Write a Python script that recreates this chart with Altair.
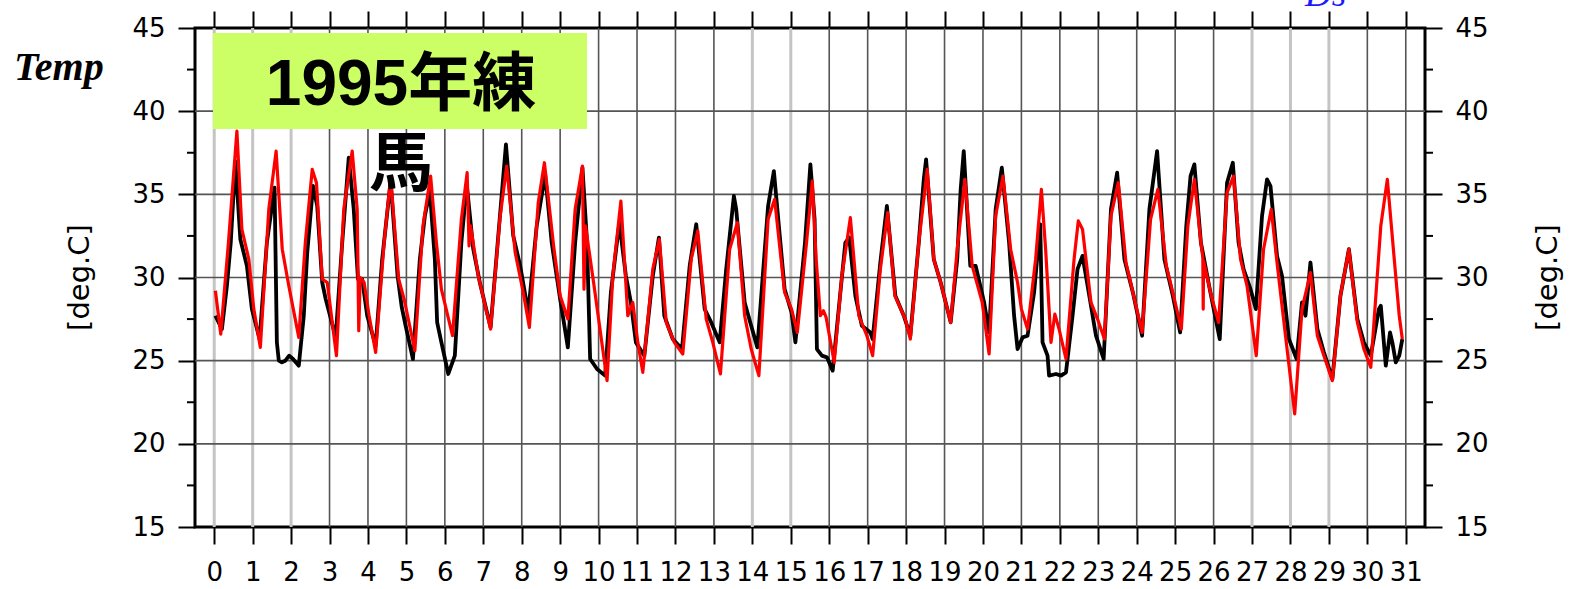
import altair as alt
import pandas as pd

# Hourly-ish readings: observed (black) and simulated (red), time in days
obs_day = [0.03, 0.20, 0.33, 0.43, 0.55, 0.68, 0.85, 0.98, 1.18, 1.37, 1.57, 1.63, 1.68, 1.76, 1.85,
           1.95, 2.05, 2.20, 2.33, 2.42, 2.57, 2.68, 2.81, 2.90, 3.16, 3.33, 3.50, 3.63, 3.74, 3.85,
           3.98, 4.20, 4.37, 4.59, 4.77, 4.88, 4.98, 5.17, 5.35, 5.48, 5.61, 5.74, 5.80, 5.91, 6.09,
           6.26, 6.43, 6.57, 6.74, 6.91, 7.19, 7.39, 7.59, 7.78, 7.96, 8.17, 8.39, 8.61, 8.78, 9.00,
           9.20, 9.39, 9.58, 9.70, 9.78, 9.96, 10.17, 10.32, 10.54, 10.71, 10.84, 10.97, 11.19, 11.41,
           11.57, 11.71, 11.93, 12.17, 12.37, 12.54, 12.76, 12.93, 13.15, 13.32, 13.52, 13.58, 13.80,
           13.97, 14.13, 14.41, 14.56, 14.84, 15.02, 15.12, 15.37, 15.51, 15.62, 15.68, 15.81, 15.94,
           16.09, 16.29, 16.42, 16.52, 16.68, 16.85, 17.07, 17.13, 17.33, 17.50, 17.72, 17.94, 18.11,
           18.33, 18.46, 18.52, 18.72, 18.90, 19.16, 19.33, 19.42, 19.50, 19.67, 19.81, 20.03, 20.16,
           20.33, 20.49, 20.68, 20.81, 20.90, 21.03, 21.16, 21.33, 21.49, 21.55, 21.68, 21.72, 21.90,
           22.03, 22.16, 22.33, 22.46, 22.59, 22.81, 22.94, 23.14, 23.33, 23.49, 23.68, 23.90, 24.14,
           24.33, 24.53, 24.72, 24.94, 25.13, 25.29, 25.40, 25.50, 25.67, 25.90, 26.16, 26.35, 26.50,
           26.65, 26.78, 26.96, 27.10, 27.26, 27.39, 27.48, 27.65, 27.78, 27.96, 28.16, 28.30, 28.39,
           28.52, 28.70, 28.87, 29.09, 29.30, 29.52, 29.74, 29.91, 30.09, 30.30, 30.35, 30.48, 30.59,
           30.65, 30.74, 30.83, 30.91]
obs_temp = [27.7, 26.9, 29.5, 32.1, 37.0, 32.3, 30.7, 28.1, 26.3, 32.1, 35.4, 26.1, 25.0, 24.9, 25.0,
            25.3, 25.1, 24.7, 27.7, 31.5, 35.5, 34.3, 29.7, 28.7, 26.4, 32.1, 37.2, 34.1, 29.9, 29.9,
            27.7, 25.9, 31.1, 35.8, 30.1, 28.2, 27.1, 25.1, 31.1, 33.7, 35.2, 31.1, 27.3, 26.1, 24.2,
            25.3, 32.1, 35.6, 31.7, 29.7, 27.0, 32.5, 38.0, 32.5, 30.7, 27.9, 33.1, 36.2, 32.1, 28.7,
            25.8, 32.1, 36.6, 32.1, 25.1, 24.5, 24.1, 29.1, 33.3, 30.1, 28.5, 26.1, 25.3, 30.1,
            32.4, 27.7, 26.3, 25.7, 30.7, 33.2, 28.1, 27.3, 26.1, 30.5, 34.9, 34.1, 28.5,
            27.1, 25.8, 34.3, 36.4, 29.3, 27.9, 26.1, 32.1, 36.8, 33.5, 25.7, 25.3, 25.2,
            24.4, 29.1, 32.1, 32.4, 28.9, 27.1, 26.7, 26.3, 30.9, 34.3, 28.9, 27.7, 26.5,
            32.1, 35.9, 37.1, 31.1, 29.7, 27.3, 31.1, 35.3, 37.6, 30.7, 30.7, 28.5, 26.7,
            34.1, 36.6, 32.1, 27.7, 25.7, 26.4, 26.5, 29.1, 33.2, 26.1, 25.3, 24.1, 24.2,
            24.1, 24.3, 27.7, 30.5, 31.3, 28.3, 26.5, 25.1, 34.1, 36.3, 31.1, 29.1, 26.5,
            34.1, 37.6, 31.1, 28.9, 26.7, 33.1, 36.1, 36.8, 32.1, 29.3, 26.3, 35.7, 36.9,
            32.1, 30.5, 29.3, 28.1, 33.7, 35.9, 35.5, 31.3, 30.1, 26.3, 25.1, 28.5, 27.7,
            30.9, 26.9, 25.5, 23.9, 28.9, 31.7, 27.5, 26.1, 25.3, 28.1, 28.3, 24.7, 26.7,
            26.1, 24.9, 25.3, 26.3]

mod_day = [0.03, 0.17, 0.37, 0.59, 0.72, 0.90, 1.03, 1.20, 1.42, 1.61, 1.77, 1.94, 2.20, 2.37, 2.55,
           2.66, 2.81, 2.94, 3.18, 3.37, 3.59, 3.72, 3.76, 3.80, 3.90, 4.03, 4.20, 4.42, 4.59, 4.80,
           4.95, 5.22, 5.43, 5.63, 5.78, 5.91, 6.20, 6.43, 6.58, 6.63, 6.67, 6.87, 7.19, 7.43, 7.61,
           7.83, 8.04, 8.20, 8.43, 8.59, 8.83, 9.00, 9.20, 9.39, 9.58, 9.62, 9.66, 9.87, 10.22, 10.37,
           10.58, 10.76, 10.89, 11.02, 11.15, 11.41, 11.58, 11.76, 11.97, 12.19, 12.41, 12.58, 12.80,
           12.97, 13.17, 13.41, 13.61, 13.80, 13.97, 14.17, 14.41, 14.58, 14.84, 15.02, 15.17, 15.41,
           15.56, 15.66, 15.77, 15.85, 15.92, 16.13, 16.33, 16.55, 16.77, 16.98, 17.13, 17.33, 17.52,
           17.71, 17.98, 18.11, 18.33, 18.55, 18.72, 18.90, 19.16, 19.33, 19.53, 19.72, 19.98, 20.16,
           20.33, 20.52, 20.72, 20.90, 21.00, 21.16, 21.37, 21.52, 21.63, 21.77, 21.87, 21.98, 22.16,
           22.37, 22.48, 22.59, 22.81, 22.98, 23.16, 23.33, 23.52, 23.72, 23.90, 24.14, 24.36, 24.55,
           24.77, 24.98, 25.16, 25.33, 25.50, 25.67, 25.72, 25.73, 25.74, 25.94, 26.13, 26.35, 26.52,
           26.70, 26.87, 27.11, 27.30, 27.50, 27.65, 27.83, 28.11, 28.30, 28.52, 28.70, 28.87, 29.09,
           29.30, 29.52, 29.74, 29.91, 30.09, 30.35, 30.52, 30.70, 30.83, 30.91]
mod_temp = [29.2, 26.6, 32.1, 38.8, 32.9, 31.1, 28.1, 25.8, 34.1, 37.6, 31.7, 29.5, 26.4, 32.1, 36.5,
            35.7, 29.9, 29.7, 25.3, 34.1, 37.6, 34.1, 26.8, 30.0, 29.7, 27.7, 25.5, 32.1, 36.0, 29.9,
            28.6, 25.6, 33.1, 36.1, 32.1, 29.3, 26.5, 33.5, 36.3, 31.9, 33.1, 30.1, 26.9, 33.5, 36.7,
            31.5, 29.1, 27.0, 34.5, 36.9, 31.9, 28.9, 27.5, 34.1, 36.7, 29.3, 33.1, 29.7, 23.8, 30.1,
            34.6, 27.7, 28.5, 26.1, 24.3, 30.5, 32.3, 27.3, 26.1, 25.4, 31.1, 32.8, 27.5,
            26.1, 24.2, 31.7, 33.3, 27.7, 25.7, 24.1, 33.5, 34.7, 29.1, 28.1, 26.7, 32.1,
            35.8, 31.1, 27.7, 28.0, 27.6, 24.9, 30.1, 33.6, 27.7, 26.5, 25.3, 30.5, 33.9,
            28.9, 27.5, 26.3, 32.1, 36.5, 31.1, 29.7, 27.3, 31.7, 35.9, 30.7, 28.5, 25.4,
            33.7, 36.1, 31.7, 29.7, 28.1, 26.9, 31.1, 35.3, 31.7, 26.1, 27.8, 26.9, 25.1,
            31.1, 33.4, 32.9, 28.5, 27.5, 26.3, 33.7, 35.7, 30.9, 29.1, 26.7, 33.5, 35.3,
            30.7, 28.7, 26.9, 33.1, 35.9, 32.1, 31.2, 28.1, 31.0, 28.9, 27.3, 35.1, 36.1,
            31.1, 29.5, 25.3, 31.7, 34.1, 30.9, 27.3, 21.8, 28.1, 30.3, 26.5, 25.3, 23.8,
            28.9, 31.7, 27.3, 25.7, 24.6, 33.1, 35.9, 31.1, 27.7, 26.3]

day_ticks = list(range(32))
shaded_days = [0, 1, 2, 14, 15, 27, 28, 29]
plain_days = [d for d in day_ticks if d not in shaded_days]
temp_ticks = [15, 20, 25, 30, 35, 40, 45]
temp_grid = [20, 25, 30, 35, 40]
temp_minor = [17.5, 22.5, 27.5, 32.5, 37.5, 42.5]

W, H = 1230, 499
LABEL_FONT = "DejaVu Sans"

x_scale = alt.Scale(domain=[-0.5, 31.5], nice=False, zero=False)
y_scale = alt.Scale(domain=[15, 45], nice=False, zero=False)

obs_df = pd.DataFrame({"day": obs_day, "temp": obs_temp})
mod_df = pd.DataFrame({"day": mod_day, "temp": mod_temp})
one = pd.DataFrame({"k": [0]})


def axis(orient, values, labels=True, align=None):
    kw = dict(orient=orient, values=values, title=None, domain=False, grid=False,
              ticks=True, tickSize=17, tickWidth=2, tickColor="black",
              labels=labels, labelFont=LABEL_FONT, labelFontSize=26, labelColor="black",
              labelOverlap=False, labelFlush=False)
    if orient in ("bottom", "top"):
        kw["labelPadding"] = 15
    else:
        kw["labelPadding"] = 13
    if align:
        kw["labelAlign"] = align
    return alt.Axis(**kw)


# grid
vgrid_plain = alt.Chart(pd.DataFrame({"day": plain_days})).mark_rule(
    color="#555555", strokeWidth=1.6).encode(x=alt.X("day:Q", scale=x_scale, axis=None))
vgrid_shaded = alt.Chart(pd.DataFrame({"day": shaded_days})).mark_rule(
    color="#c4c4c4", strokeWidth=3).encode(x=alt.X("day:Q", scale=x_scale, axis=None))
hgrid = alt.Chart(pd.DataFrame({"temp": temp_grid})).mark_rule(
    color="#555555", strokeWidth=1.6).encode(y=alt.Y("temp:Q", scale=y_scale, axis=None))

# minor ticks on both vertical axes
minor_df = pd.DataFrame({"temp": temp_minor})
minor_left = alt.Chart(minor_df).mark_rule(color="black", strokeWidth=2).encode(
    y=alt.Y("temp:Q", scale=y_scale, axis=None), x=alt.value(-8), x2=alt.value(0))
minor_right = alt.Chart(minor_df).mark_rule(color="black", strokeWidth=2).encode(
    y=alt.Y("temp:Q", scale=y_scale, axis=None), x=alt.value(W), x2=alt.value(W + 8))

obs_line = alt.Chart(obs_df).mark_line(color="black", strokeWidth=3.8, strokeJoin="round").encode(
    x=alt.X("day:Q", scale=x_scale, axis=axis("bottom", day_ticks)),
    y=alt.Y("temp:Q", scale=y_scale, axis=axis("left", temp_ticks, align="right")),
)
mod_line = alt.Chart(mod_df).mark_line(color="#ff0000", strokeWidth=3.2, strokeJoin="round").encode(
    x=alt.X("day:Q", scale=x_scale, axis=axis("top", day_ticks, labels=False)),
    y=alt.Y("temp:Q", scale=y_scale, axis=axis("right", temp_ticks, align="left")),
)

# annotations
title_box = alt.Chart(one).mark_rect(color="#ccff66").encode(
    x=alt.value(18), x2=alt.value(392), y=alt.value(5), y2=alt.value(101))
title_text = alt.Chart(one).mark_text(
    font="Liberation Sans, Noto Sans CJK JP", fontWeight="bold", fontSize=64,
    align="center", baseline="alphabetic", lineBreak="\n", lineHeight=80, color="black"
).encode(text=alt.value("1995年練\n馬"), x=alt.value(206), y=alt.value(77))

temp_label = alt.Chart(one).mark_text(
    font="Liberation Serif", fontStyle="italic", fontWeight="bold", fontSize=40,
    align="left", baseline="alphabetic", color="black"
).encode(text=alt.value("Temp"), x=alt.value(-181), y=alt.value(52))

ds_label = alt.Chart(one).mark_text(
    font="Liberation Serif", fontStyle="italic", fontSize=37,
    align="left", baseline="alphabetic", color="#1a1aff"
).encode(text=alt.value("Ds"), x=alt.value(1110), y=alt.value(-22))

unit_left = alt.Chart(one).mark_text(
    font=LABEL_FONT, fontSize=29, angle=270, align="center", baseline="middle", color="black"
).encode(text=alt.value("[deg.C]"), x=alt.value(-115), y=alt.value(H / 2))
unit_right = alt.Chart(one).mark_text(
    font=LABEL_FONT, fontSize=29, angle=270, align="center", baseline="middle", color="black"
).encode(text=alt.value("[deg.C]"), x=alt.value(1353), y=alt.value(H / 2))

chart = alt.layer(
    vgrid_plain, vgrid_shaded, hgrid, minor_left, minor_right,
    obs_line, mod_line,
    title_box, title_text, temp_label, ds_label, unit_left, unit_right,
).resolve_axis(x="independent", y="independent").properties(
    width=W, height=H,
    autosize=alt.AutoSizeParams(type="none"),
    padding={"left": 195, "top": 28, "right": 149, "bottom": 62},
    background="white",
).configure_view(stroke="black", strokeWidth=3)

chart.save("out.html", embed_options={"renderer": "svg", "actions": False})
